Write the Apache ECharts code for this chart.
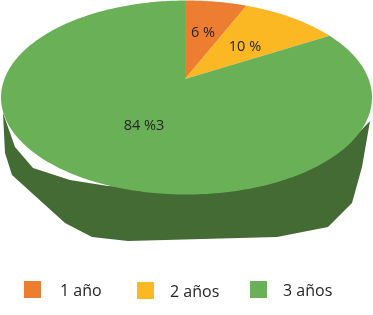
<!DOCTYPE html>
<html>
<head>
<meta charset="utf-8">
<style>html,body{margin:0;padding:0;background:#fff}#c{width:373px;height:315px}</style>
<script src="https://cdn.jsdelivr.net/npm/echarts@6/dist/echarts.min.js"></script>
</head>
<body>
<div id="c"></div>
<script>
const categories = ['1 año', '2 años', '3 años'];
const values = [6, 10, 84];
const labels = ['6 %', '10 %', '84 %3'];

const colors = ['#ED7D31', '#FCB823', '#6AB056'];
const sideColor = '#436B33';
// perspective ellipse layout
const apex = [185, 79], ell = { cx: 186.5, cy: 97.5, rx: 185.5, ry: 97 };
const dirX = 197, dirY = 92.95, K = 0.1917;
const labelPos = [[203, 33], [245, 47], [144, 126]];
const legendSwatchX = [24, 137, 250], legendY = [281, 282, 281], legendPad = [14, 11, 11];
const sideOutline = [[3,113],[5,153],[12,175],[65,223],[92,237],[128,241],[277,237],[328,227],[352,203],[362,167],[370,121],[347,145],[200,190],[108,186],[70,180],[33,168],[15,147]];

// A share of the pie (0..1) -> the point of the tilted rim it falls on.
function project(f) {
  const t = 2 * Math.PI * f, u = Math.sin(t), v = -Math.cos(t), d = 1 - K * v;
  const dx = dirX * u / d, dy = dirY * v / d;
  const px = (apex[0] - ell.cx) / ell.rx, py = (apex[1] - ell.cy) / ell.ry;
  const qx = dx / ell.rx, qy = dy / ell.ry;
  const a = qx * qx + qy * qy, b = 2 * (px * qx + py * qy), c = px * px + py * py - 1;
  const s = (-b + Math.sqrt(b * b - 4 * a * c)) / (2 * a);
  return [apex[0] + s * dx, apex[1] + s * dy];
}
const total = values.reduce((a, b) => a + b, 0);
let acc = 0;
const spans = values.map(v => { const s = [acc / total, (acc + v) / total]; acc += v; return s; });

const series = categories.map((name, i) => ({
  name, type: 'custom', coordinateSystem: 'none', silent: true, z: 3 + i,
  data: [spans[i]],
  itemStyle: { color: colors[i] },
  renderItem: (params, api) => {
    const s = api.value(0), e = api.value(1), pts = [apex.slice()];
    const n = Math.max(4, Math.round((e - s) * 360));
    for (let j = 0; j <= n; j++) pts.push(project(s + (e - s) * j / n));
    return { type: 'polygon', shape: { points: pts }, style: { fill: colors[i] } };
  }
}));
series.push({
  name: 'labels', type: 'custom', coordinateSystem: 'none', silent: true, z: 10,
  data: labels.map((l, i) => [i]),
  renderItem: (params, api) => {
    const i = api.value(0);
    return { type: 'text', x: labelPos[i][0], y: labelPos[i][1],
      style: { text: labels[i], fill: '#262626', font: '14.5px "Open Sans"', align: 'center', verticalAlign: 'middle' } };
  }
});

const chart = echarts.init(document.getElementById('c'), null, { renderer: 'canvas' });
chart.setOption({
  animation: false,
  backgroundColor: '#fff',
  legend: categories.map((name, i) => ({
    data: [name], left: legendSwatchX[i], top: legendY[i], padding: 0,
    icon: 'rect', itemWidth: 17, itemHeight: 17, selectedMode: false,
    formatter: '{t|{name}}',
    textStyle: { padding: [4, 0, 0, legendPad[i]],
      rich: { t: { color: '#262626', fontFamily: 'Open Sans', fontSize: 16 } } }
  })),
  graphic: [{ type: 'polygon', z: 0, silent: true, shape: { points: sideOutline }, style: { fill: sideColor } }],
  series
});
</script>
</body>
</html>
